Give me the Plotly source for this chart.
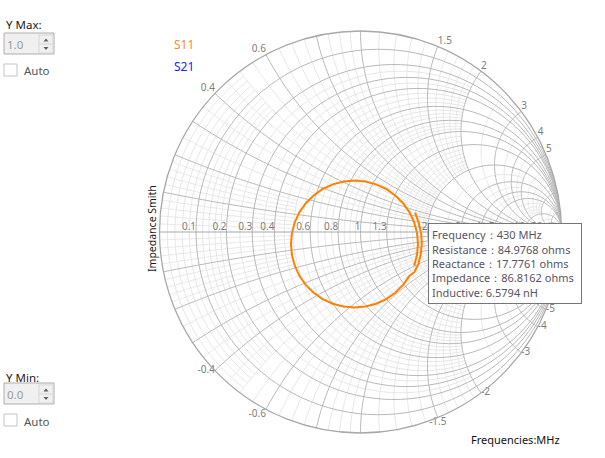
import numpy as np
import plotly.graph_objects as go

W, H = 605, 458

# ---------------- data ----------------
# S11 trace as reflection coefficient
s11_gamma_re = [0.272, 0.290, 0.302, 0.305, 0.300, 0.288, 0.268,
                0.244, 0.212, 0.173, 0.128, 0.078, 0.025, -0.030, -0.085, -0.138, -0.188,
                -0.233, -0.272, -0.304, -0.327, -0.341, -0.346, -0.341, -0.327, -0.304,
                -0.272, -0.233, -0.188, -0.138, -0.085, -0.030, 0.025, 0.078, 0.128,
                0.173, 0.212, 0.244, 0.267, 0.281, 0.286, 0.281, 0.267]
s11_gamma_im = [0.096, 0.045, -0.010, -0.060, -0.110, -0.160, -0.200,
                -0.218, -0.263, -0.302, -0.334, -0.357, -0.371, -0.376, -0.371, -0.357, -0.334,
                -0.302, -0.263, -0.218, -0.168, -0.115, -0.060, -0.005, 0.048, 0.098,
                0.143, 0.182, 0.214, 0.237, 0.251, 0.256, 0.251, 0.237, 0.214,
                0.182, 0.143, 0.098, 0.048, -0.005, -0.060, -0.115, -0.168]

series_names = ["S11", "S21"]
series_colors = ["#ff8a1c", "#1c1cff"]
curve_color = "#ff8000"

marker_freq_mhz = 430
marker_resistance = 84.9768
marker_reactance = 17.7761
marker_impedance = 86.8162
marker_inductance_nh = 6.5794

real_label_vals = [0.1, 0.2, 0.3, 0.4, 0.6, 0.8, 1, 1.3, 2, 3, 4, 5, 10, 20]
real_label_text = ["0.1", "0.2", "0.3", "0.4", "0.6", "0.8", "1", "1.3", "2", "3", "4", "5", "10", "20"]
imag_label_vals = [0.4, 0.6, 1.5, 2, 3, 4, 5, -0.4, -0.6, -1.5, -2, -3, -4, -5]
imag_label_text = ["0.4", "0.6", "1.5", "2", "3", "4", "5", "-0.4", "-0.6", "-1.5", "-2", "-3", "-4", "-5"]
imag_label_pos = ["top left", "top left", "top right", "top right", "top right", "top right", "top right",
                  "middle left", "bottom left", "bottom center", "middle right", "middle right",
                  "middle right", "middle right"]

major_r = [0.1, 0.2, 0.3, 0.4, 0.6, 0.8, 1, 1.3, 2, 3, 4, 5, 10, 20]
major_x = [0.1, 0.2, 0.3, 0.4, 0.6, 0.8, 1, 1.5, 2, 3, 4, 5, 10, 20]
minor_r_groups = [
    ([0.02, 0.04, 0.06, 0.08, 0.12, 0.14, 0.16, 0.18], 0.5),
    ([0.25, 0.35, 0.45, 0.5, 0.55, 0.65, 0.7, 0.75, 0.85, 0.9, 0.95], 2.0),
    ([1.1, 1.2, 1.4, 1.5, 1.6, 1.7, 1.8, 1.9], 2.0),
    ([2.5, 3.5, 4.5], 5.0),
    ([6, 7, 8, 9], 10.0),
    ([15], 20.0),
]
minor_x_groups = [
    ([0.02, 0.04, 0.06, 0.08, 0.12, 0.14, 0.16, 0.18], 0.5),
    ([0.25, 0.35, 0.45, 0.5, 0.55, 0.65, 0.7, 0.75, 0.85, 0.9, 0.95], 2.0),
    ([1.1, 1.2, 1.3, 1.4, 1.6, 1.7, 1.8, 1.9], 2.0),
    ([2.5, 3.5, 4.5], 5.0),
    ([6, 7, 8, 9], 10.0),
    ([15], 20.0),
]

FONT = "Segoe UI, Noto Sans, sans-serif"


# ---------------- grid helpers ----------------
def r_seg(r, xlim, n=120):
    pm = np.arctan(xlim / (r + 1)) if np.isfinite(xlim) else np.pi / 2 - 1e-4
    phi = np.linspace(-pm, pm, n)
    return np.full(n, float(r)), (r + 1) * np.tan(phi)


def x_seg(x, rlim, n=120):
    ax = abs(x)
    a = np.arctan(ax / (rlim + 1)) if np.isfinite(rlim) else 1e-4
    b = np.arctan(ax)
    psi = np.linspace(a, b, n)
    rr = np.clip(ax / np.tan(psi) - 1, 0, None)
    return rr, np.full(n, float(x))


def collect(segs):
    re, im = [], []
    for a, b in segs:
        re += list(a) + [None]
        im += list(b) + [None]
    return re, im


minor_segs = []
for vals, lim in minor_r_groups:
    for r in vals:
        minor_segs.append(r_seg(r, lim))
for vals, lim in minor_x_groups:
    for x in vals:
        minor_segs.append(x_seg(x, lim))
        minor_segs.append(x_seg(-x, lim))

major_segs = []
for r in major_r:
    major_segs.append(r_seg(r, np.inf))
for x in major_x:
    major_segs.append(x_seg(x, np.inf))
    major_segs.append(x_seg(-x, np.inf))

fig = go.Figure()

mre, mim = collect(minor_segs)
fig.add_trace(go.Scattersmith(real=mre, imag=mim, mode="lines",
                              line=dict(color="#e6e6e6", width=1), hoverinfo="skip",
                              showlegend=False))
Mre, Mim = collect(major_segs)
fig.add_trace(go.Scattersmith(real=Mre, imag=Mim, mode="lines",
                              line=dict(color="#b8b8b8", width=1), hoverinfo="skip",
                              showlegend=False))

# S11 curve
g = np.array(s11_gamma_re) + 1j * np.array(s11_gamma_im)
z = (1 + g) / (1 - g)
fig.add_trace(go.Scattersmith(real=z.real, imag=z.imag, mode="lines", name=series_names[0],
                              line=dict(color=curve_color, width=2), hoverinfo="skip",
                              showlegend=False))

# axis labels
fig.add_trace(go.Scattersmith(real=real_label_vals, imag=[0] * len(real_label_vals),
                              mode="text", text=real_label_text, textposition="top left",
                              textfont=dict(family=FONT, size=10, color="#7d7d7d"),
                              hoverinfo="skip", showlegend=False))
fig.add_trace(go.Scattersmith(real=[0] * len(imag_label_vals), imag=imag_label_vals,
                              mode="text", text=imag_label_text, textposition=imag_label_pos,
                              textfont=dict(family=FONT, size=10, color="#7d7d7d"),
                              hoverinfo="skip", showlegend=False))

cx, cy, R = 360.5, 232, 201
fig.update_layout(
    width=W, height=H, margin=dict(l=0, r=0, t=0, b=0),
    paper_bgcolor="white", plot_bgcolor="white",
    smith=dict(
        domain=dict(x=[(cx - R) / W, (cx + R) / W], y=[(H - cy - R) / H, (H - cy + R) / H]),
        bgcolor="white",
        realaxis=dict(showgrid=False, showticklabels=False, ticks="", showline=True,
                      linecolor="#a8a8a8", linewidth=1),
        imaginaryaxis=dict(showgrid=False, showticklabels=False, ticks="", showline=True,
                           linecolor="#a8a8a8", linewidth=1.3),
    ),
    showlegend=False,
)


def px(x):
    return x / W


def py(y):
    return 1 - y / H


ann = []
shapes = []


def text(x, y, s, size=12, color="#111", xanchor="left", angle=0):
    ann.append(dict(x=px(x), y=py(y), xref="paper", yref="paper", text=s, showarrow=False,
                    xanchor=xanchor, yanchor="middle", textangle=angle,
                    font=dict(family=FONT, size=size, color=color)))


def rect(x0, y0, x1, y1, fill, line, w=1):
    shapes.append(dict(type="rect", xref="paper", yref="paper", x0=px(x0), x1=px(x1),
                       y0=py(y1), y1=py(y0), fillcolor=fill, line=dict(color=line, width=w)))


def tri(pts):
    d = "M " + " L ".join(f"{px(a):.5f} {py(b):.5f}" for a, b in pts) + " Z"
    shapes.append(dict(type="path", xref="paper", yref="paper", path=d,
                       fillcolor="#606060", line=dict(width=0)))


def spin_group(off, label, value):
    if label:
        text(4, 24 + off, label, size=11.5, color="#1a1a1a")
    rect(4, 33 + off, 54, 54 + off, "#f0f0f0", "#adadad")
    rect(39, 35 + off, 53, 53 + off, "#f0f0f0", "#d6d6d6")
    shapes.append(dict(type="line", xref="paper", yref="paper", x0=px(39), x1=px(53),
                       y0=py(44 + off), y1=py(44 + off), line=dict(color="#d6d6d6", width=1)))
    tri([(43.5, 41.5 + off), (48.5, 41.5 + off), (46, 38.5 + off)])
    tri([(43.5, 47 + off), (48.5, 47 + off), (46, 50 + off)])
    text(5, 44 + off, value, size=11.5, color="#9a9a9a")
    rect(4, 64 + off, 17, 76 + off, "white", "#c4c4c4")
    text(22, 71 + off, "Auto", size=11.5, color="#555555")


spin_group(0, "Y Max:", "1.0")
text(4, 377, "Y Min:", size=11.5, color="#1a1a1a")
spin_group(350, "", "0.0")

# legend
text(172, 45, series_names[0], size=12, color=series_colors[0])
text(172, 67, series_names[1], size=12, color=series_colors[1])

# axis title & footer
text(152, 229, "Impedance Smith", size=10.5, color="#1a1a1a", xanchor="center", angle=-90)
text(562, 439, "Frequencies:MHz", size=11, color="#111111", xanchor="right")

# tooltip
tip = "<br>".join([
    f"Frequency：{marker_freq_mhz} MHz",
    f"Resistance：{marker_resistance:.4f} ohms",
    f"Reactance：{marker_reactance:.4f} ohms",
    f"Impedance：{marker_impedance:.4f} ohms",
    f"Inductive: {marker_inductance_nh:.4f} nH",
])
ann.append(dict(x=px(428), y=py(223), xref="paper", yref="paper", text=tip, showarrow=False,
                xanchor="left", yanchor="top", align="left", width=146, height=73,
                bgcolor="white", bordercolor="#767676", borderwidth=1, borderpad=3,
                font=dict(family=FONT, size=11, color="#5a5266")))

fig.update_layout(annotations=ann, shapes=shapes)
fig.write_html("out.html")
